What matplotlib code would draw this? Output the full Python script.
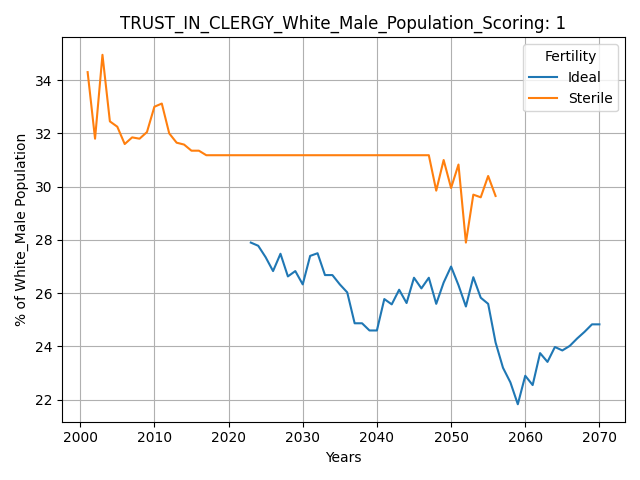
import matplotlib
matplotlib.use("Agg")
import matplotlib.pyplot as plt

# Ideal series, 2023-2070
ideal_years = list(range(2023, 2071))
ideal_vals = [27.9, 27.78, 27.35, 26.83, 27.48, 26.63, 26.83, 26.33, 27.4, 27.5,
              26.68, 26.68, 26.33, 26.03, 24.87, 24.87, 24.6, 24.6, 25.78, 25.58,
              26.13, 25.63, 26.58, 26.18, 26.58, 25.6, 26.4, 27.0, 26.3, 25.5,
              26.6, 25.83, 25.6, 24.15, 23.2, 22.65, 21.83, 22.9, 22.55, 23.75,
              23.42, 23.98, 23.85, 24.02, 24.3, 24.55, 24.83, 24.83]

# Sterile series, 2001-2056
sterile_years = list(range(2001, 2057))
sterile_vals = ([34.3, 31.8, 34.95, 32.45, 32.25, 31.6, 31.85, 31.8, 32.05, 33.0,
                 33.12, 32.0, 31.65, 31.58, 31.35, 31.35]
                + [31.18] * 31
                + [29.85, 31.0, 29.95, 30.83, 27.9, 29.7, 29.6, 30.4, 29.65])

fig, ax = plt.subplots(figsize=(6.4, 4.8), dpi=100)
ax.plot(ideal_years, ideal_vals, label="Ideal")
ax.plot(sterile_years, sterile_vals, label="Sterile")
ax.set_title("TRUST_IN_CLERGY_White_Male_Population_Scoring: 1")
ax.set_xlabel("Years")
ax.set_ylabel("% of White_Male Population")
ax.grid(True)
ax.legend(title="Fertility", loc="upper right")
fig.tight_layout()
fig.savefig("out.png")
